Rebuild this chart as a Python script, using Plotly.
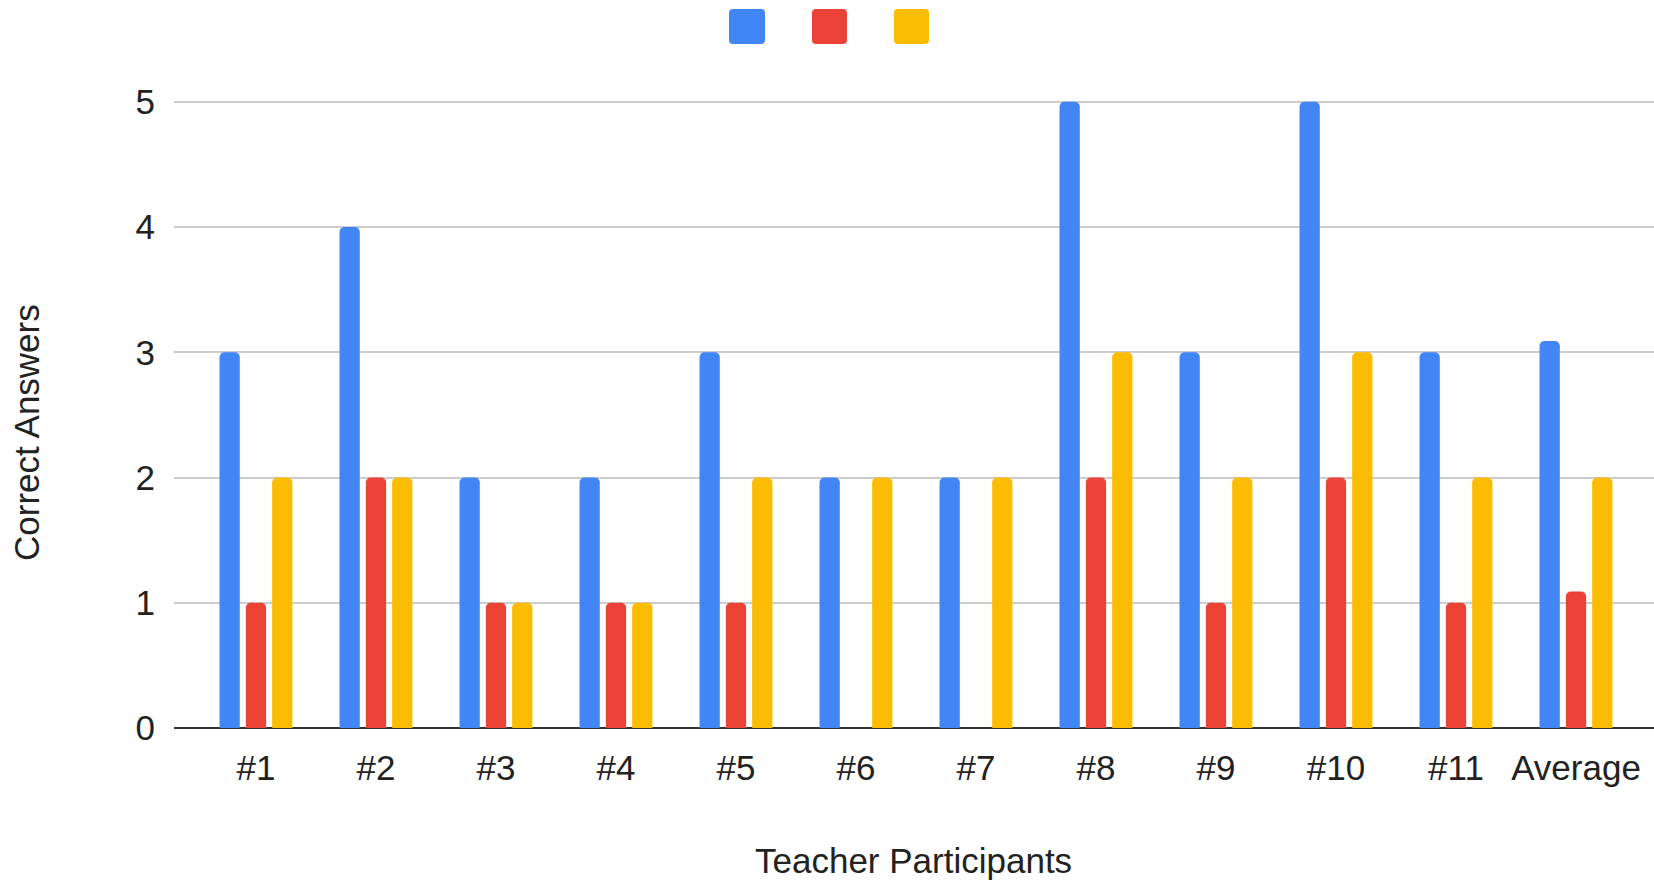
import plotly.graph_objects as go

categories = ["#1", "#2", "#3", "#4", "#5", "#6", "#7", "#8", "#9", "#10", "#11", "Average"]
series_blue = [3, 4, 2, 2, 3, 2, 2, 5, 3, 5, 3, 3.09]
series_red = [1, 2, 1, 1, 1, 0, 0, 2, 1, 2, 1, 1.09]
series_yellow = [2, 2, 1, 1, 2, 2, 2, 3, 2, 3, 2, 2.0]
y_ticks = [0, 1, 2, 3, 4, 5]

colors = ["#4285F4", "#EA4335", "#FBBC04"]
names = ["Series 1", "Series 2", "Series 3"]

W, H = 1654, 882
YMAX = 5.03
L, R, T, B = 174, 0, 98, 154
PW = W - L - R
PH = H - T - B
FONT = "Liberation Sans, Arial, sans-serif"
FS = 35

fig = go.Figure()
for vals, c, n in zip([series_blue, series_red, series_yellow], colors, names):
    fig.add_trace(go.Bar(x=categories, y=vals, name=n, marker=dict(color=c, line=dict(width=0)),
                         showlegend=False))


def px_x(p):
    return (p - L) / PW


def px_y(p):
    return (H - B - p) / PH


def rrect(x0, y0, x1, y1, r):
    def P(x, y):
        return f"{px_x(x):.5f},{px_y(y):.5f}"
    return (f"M {P(x0 + r, y0)} L {P(x1 - r, y0)} Q {P(x1, y0)} {P(x1, y0 + r)} "
            f"L {P(x1, y1 - r)} Q {P(x1, y1)} {P(x1 - r, y1)} "
            f"L {P(x0 + r, y1)} Q {P(x0, y1)} {P(x0, y1 - r)} "
            f"L {P(x0, y0 + r)} Q {P(x0, y0)} {P(x0 + r, y0)} Z")


shapes = []
for (x0, x1), c in zip([(729, 765), (812, 847), (894, 929)], colors):
    shapes.append(dict(type="path", xref="paper", yref="paper", path=rrect(x0, 9, x1, 44, 4),
                       fillcolor=c, line=dict(width=0), layer="above"))

fig.update_layout(
    width=W, height=H,
    margin=dict(l=L, r=R, t=T, b=B, autoexpand=False),
    paper_bgcolor="white", plot_bgcolor="white",
    font=dict(family=FONT, size=FS, color="#222222"),
    barmode="group", bargap=0.342, bargroupgap=0.23, barcornerradius=5,
    showlegend=False,
    shapes=shapes,
    xaxis=dict(range=[-0.683, 11.65], showgrid=False, zeroline=False, showline=False,
               ticks="", tickfont=dict(size=FS, color="#222222"), ticklabelstandoff=16,
               automargin=False),
    yaxis=dict(range=[0, YMAX], tickvals=y_ticks, showgrid=True, gridcolor="#cccccc", gridwidth=2,
               zeroline=True, zerolinecolor="#333333", zerolinewidth=2, showline=False,
               ticks="", tickfont=dict(size=FS, color="#222222"), ticklabelstandoff=18,
               automargin=False),
    annotations=[
        dict(text="Correct Answers", xref="paper", yref="paper", x=px_x(26), y=px_y(433),
             xanchor="center", yanchor="middle", textangle=-90, showarrow=False,
             font=dict(size=FS, color="#222222")),
        dict(text="Teacher Participants", xref="paper", yref="paper", x=px_x(913), y=px_y(860),
             xanchor="center", yanchor="middle", showarrow=False,
             font=dict(size=FS, color="#222222")),
    ],
)

fig.write_html("out.html", config={"displayModeBar": False},
               post_script="document.body.style.margin='0';")
